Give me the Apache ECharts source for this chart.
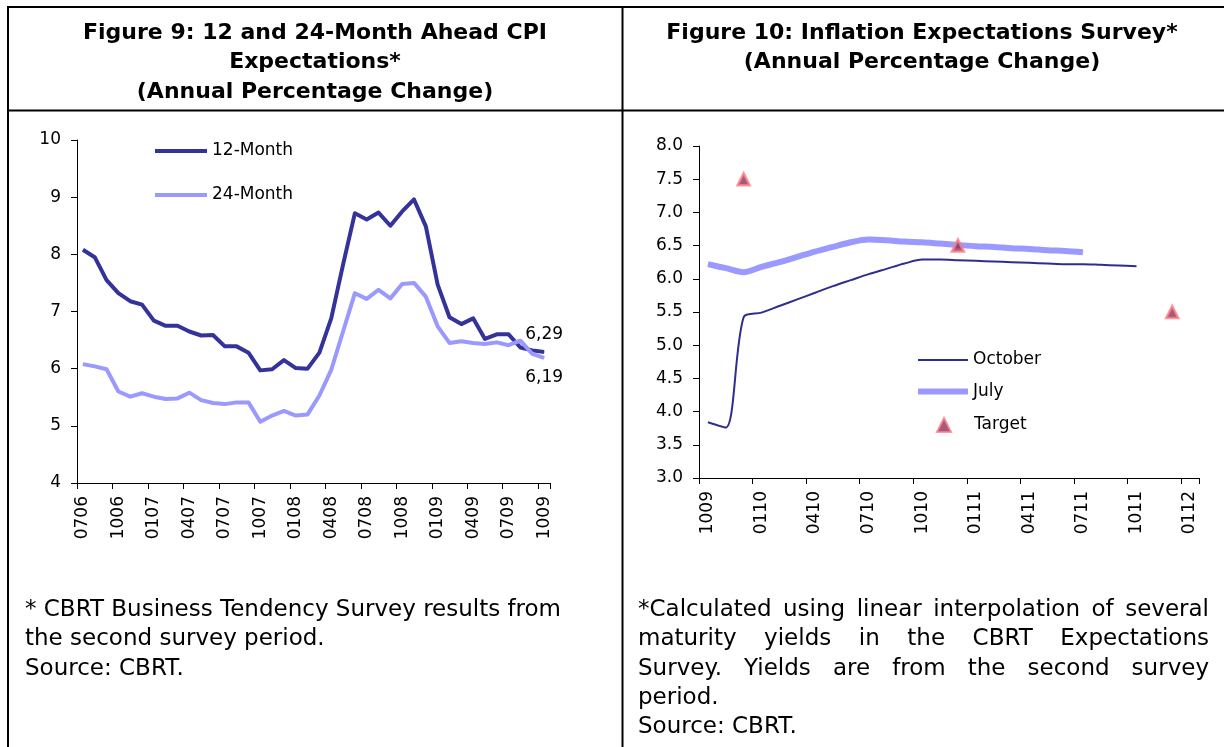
<!DOCTYPE html>
<html>
<head>
<meta charset="utf-8">
<title>Figure 9 / Figure 10</title>
<script src="https://cdn.jsdelivr.net/npm/echarts@6/dist/echarts.min.js"></script>
<style>
  html, body { margin: 0; padding: 0; background: #fff; }
  #chart { width: 1224px; height: 747px; }
</style>
</head>
<body>
<div id="chart"></div>
<script>
// Figure 9: 12 and 24-month ahead CPI expectations (MMYY)
var months9 = ['0706','0806','0906','1006','1106','1206',
  '0107','0207','0307','0407','0507','0607','0707','0807','0907','1007','1107','1207',
  '0108','0208','0308','0408','0508','0608','0708','0808','0908','1008','1108','1208',
  '0109','0209','0309','0409','0509','0609','0709','0809','0909','1009'];
var expect12 = [8.08, 7.95, 7.55, 7.32, 7.18, 7.12, 6.84, 6.75, 6.75, 6.65,
  6.58, 6.59, 6.39, 6.39, 6.28, 5.97, 5.99, 6.15, 6.01, 6.00,
  6.28, 6.88, 7.82, 8.72, 8.61, 8.73, 8.50, 8.75, 8.96, 8.49,
  7.47, 6.90, 6.78, 6.88, 6.52, 6.60, 6.60, 6.37, 6.32, 6.29];
var expect24 = [6.08, 6.04, 5.99, 5.60, 5.51, 5.57, 5.51, 5.47, 5.48, 5.58,
  5.45, 5.40, 5.38, 5.41, 5.41, 5.07, 5.18, 5.26, 5.18, 5.20,
  5.53, 5.98, 6.65, 7.32, 7.22, 7.38, 7.23, 7.48, 7.50, 7.26,
  6.74, 6.45, 6.48, 6.45, 6.43, 6.46, 6.41, 6.49, 6.26, 6.19];

// Figure 10: inflation expectations survey
var months10 = ['1009','1109','1209',
  '0110','0210','0310','0410','0510','0610','0710','0810','0910','1010','1110','1210',
  '0111','0211','0311','0411','0511','0611','0711','0811','0911','1011','1111','1211',
  '0112'];
var october = [3.84, 3.76, 5.42, 5.49, 5.59, 5.69, 5.79, 5.89, 5.98, 6.07,
  6.15, 6.23, 6.29, 6.29, 6.28, 6.27, 6.26, 6.25, 6.24, 6.23,
  6.22, 6.22, 6.21, 6.20, 6.19, null, null, null];
var july = [6.22, 6.16, 6.10, 6.18, 6.25, 6.33, 6.41, 6.48, 6.55, 6.59,
  6.58, 6.56, 6.55, 6.53, 6.51, 6.49, 6.48, 6.46, 6.45, 6.43,
  6.42, 6.40, null, null, null, null, null, null];
var target = [null, null, 7.5, null, null, null, null, null, null, null,
  null, null, null, null, 6.5, null, null, null, null, null,
  null, null, null, null, null, null, 5.5, null];

var FONT = '"DejaVu Sans", sans-serif';
var dark = '#333399';
var light = '#9999FF';

var myChart = echarts.init(document.getElementById('chart'));

// last point of a series carries its value label (decimal comma)
function withEndLabel(arr, pos, dist) {
  return arr.map(function (v, i) {
    if (i !== arr.length - 1) return v;
    return {
      value: v,
      symbol: 'circle',
      symbolSize: 1,
      label: {
        show: true, position: pos, distance: dist,
        formatter: v.toFixed(2).replace('.', ','),
        color: '#000', fontFamily: FONT, fontSize: 17
      }
    };
  });
}

function catAxis(idx, data) {
  return {
    type: 'category', gridIndex: idx, data: data, boundaryGap: true,
    axisLine: { show: true, lineStyle: { color: '#000', width: 1 } },
    axisTick: { show: true, interval: 2, length: 6, lineStyle: { color: '#000', width: 1 } },
    axisLabel: { interval: 2, rotate: 90, margin: 13, color: '#000', fontFamily: FONT, fontSize: 17 },
    splitLine: { show: false }
  };
}

function valAxis(idx, min, max, step, fmt) {
  return {
    type: 'value', gridIndex: idx, min: min, max: max, interval: step,
    axisLine: { show: true, lineStyle: { color: '#000', width: 1 } },
    axisTick: { show: true, length: 6, lineStyle: { color: '#000', width: 1 } },
    axisLabel: { margin: 16, color: '#000', fontFamily: FONT, fontSize: 17, formatter: fmt },
    splitLine: { show: false }
  };
}

// one legend row each, so every icon gets its own size
function legendRow(name, icon, left, centerY, w, h, padLeft) {
  return {
    data: [icon ? { name: name, icon: icon } : { name: name }],
    orient: 'vertical', left: left, top: centerY - 8, padding: 0,
    itemWidth: w, itemHeight: h, selectedMode: false,
    textStyle: { color: '#000', fontFamily: FONT, fontSize: 17, lineHeight: 20,
      padding: [0, 0, 0, padLeft || 0] }
  };
}

// frame, titles, footnotes
var graphics = [];
function line(x1, y1, x2, y2) {
  graphics.push({ type: 'line', silent: true,
    shape: { x1: x1, y1: y1, x2: x2, y2: y2 },
    style: { stroke: '#000', lineWidth: 2 } });
}
function txt(s, x, y, font, align) {
  graphics.push({ type: 'text', silent: true, x: x, y: y,
    style: { text: s, font: font, fill: '#000',
      align: align || 'left', verticalAlign: 'middle',
      textAlign: align || 'left', textVerticalAlign: 'middle' } });
}

line(8, 7, 1224, 7);
line(8, 110.5, 1224, 110.5);
line(8, 6, 8, 747);
line(622.5, 6, 622.5, 747);

var titleFont = 'bold 22px ' + FONT;
txt('Figure 9: 12 and 24-Month Ahead CPI', 315, 33, titleFont, 'center');
txt('Expectations*', 315, 62.5, titleFont, 'center');
txt('(Annual Percentage Change)', 315, 92, titleFont, 'center');
txt('Figure 10: Inflation Expectations Survey*', 922, 33, titleFont, 'center');
txt('(Annual Percentage Change)', 922, 62.5, titleFont, 'center');

var noteFont = '23px ' + FONT;
txt('* CBRT Business Tendency Survey results from', 25, 610, noteFont);
txt('the second survey period.', 25, 639.3, noteFont);
txt('Source: CBRT.', 25, 668.6, noteFont);

// justified paragraph on the right
var ctx = document.createElement('canvas').getContext('2d');
function justified(lines, x0, width, y0, lh, font) {
  ctx.font = font;
  lines.forEach(function (ln, i) {
    var y = y0 + i * lh;
    var words = ln.text.split(' ');
    if (!ln.justify || words.length < 2) { txt(ln.text, x0, y, font); return; }
    var total = 0;
    words.forEach(function (w) { total += ctx.measureText(w).width; });
    var gap = (width - total) / (words.length - 1);
    var x = x0;
    words.forEach(function (w) {
      txt(w, x, y, font);
      x += ctx.measureText(w).width + gap;
    });
  });
}
justified([
  { text: '*Calculated using linear interpolation of several', justify: true },
  { text: 'maturity yields in the CBRT Expectations', justify: true },
  { text: 'Survey. Yields are from the second survey', justify: true },
  { text: 'period.', justify: false }
], 638, 571, 610, 29.3, noteFont);
txt('Source: CBRT.', 638, 727.5, noteFont);

var option = {
  animation: false,
  backgroundColor: '#fff',
  textStyle: { fontFamily: FONT },
  grid: [
    { left: 77, top: 140, width: 473, height: 343, outerBoundsMode: 'none' },
    { left: 699, top: 146, width: 500, height: 332, outerBoundsMode: 'none' }
  ],
  legend: [
    legendRow('12-Month', 'rect', 155, 149, 52, 4),
    legendRow('24-Month', 'rect', 155, 193, 52, 4),
    legendRow('October', 'rect', 918, 358, 50, 2),
    legendRow('July', 'rect', 918, 389.5, 50, 6),
    legendRow('Target', null, 936, 423, 14, 14, 18)
  ],
  xAxis: [catAxis(0, months9), catAxis(1, months10)],
  yAxis: [
    valAxis(0, 4, 10, 1),
    valAxis(1, 3, 8, 0.5, function (v) { return v.toFixed(1); })
  ],
  series: [
    {
      name: '12-Month', type: 'line', xAxisIndex: 0, yAxisIndex: 0,
      data: withEndLabel(expect12, 'top', 9),
      symbol: 'none', showAllSymbol: true,
      lineStyle: { color: dark, width: 4, join: 'round' },
      itemStyle: { color: dark }
    },
    {
      name: '24-Month', type: 'line', xAxisIndex: 0, yAxisIndex: 0,
      data: withEndLabel(expect24, 'bottom', 11),
      symbol: 'none', showAllSymbol: true,
      lineStyle: { color: light, width: 4, join: 'round' },
      itemStyle: { color: light }
    },
    {
      name: 'October', type: 'line', xAxisIndex: 1, yAxisIndex: 1,
      data: october, symbol: 'none', smooth: 0.3,
      lineStyle: { color: '#2E2E8C', width: 2 },
      itemStyle: { color: '#2E2E8C' }
    },
    {
      name: 'July', type: 'line', xAxisIndex: 1, yAxisIndex: 1,
      data: july, symbol: 'none', smooth: 0.3,
      lineStyle: { color: light, width: 6 },
      itemStyle: { color: light }
    },
    {
      name: 'Target', type: 'scatter', xAxisIndex: 1, yAxisIndex: 1,
      data: target, symbol: 'triangle', symbolSize: 12,
      itemStyle: { color: '#8E2F5E', borderColor: '#FF7F84', borderWidth: 2.5 },
      z: 5
    }
  ],
  graphic: graphics
};
myChart.setOption(option);
</script>
</body>
</html>
